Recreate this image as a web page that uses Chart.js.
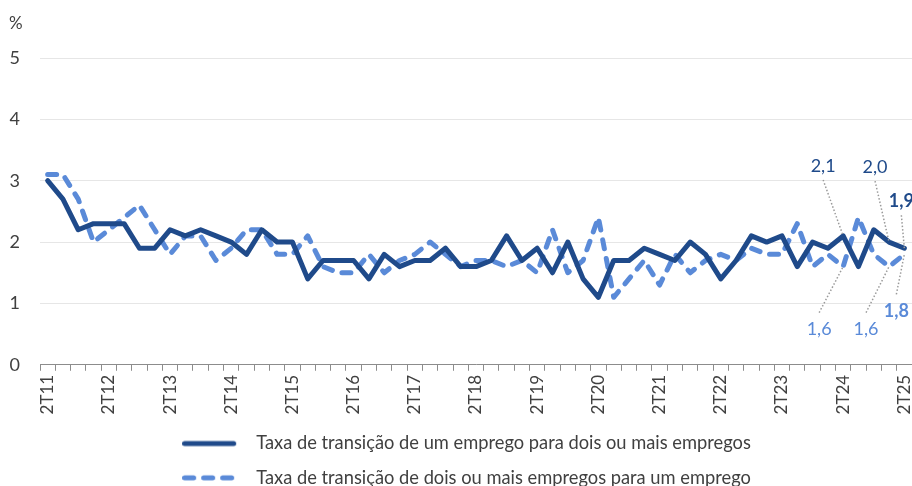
<!DOCTYPE html>
<html>
<head>
<meta charset="utf-8">
<script src="https://cdn.jsdelivr.net/npm/chart.js@4"></script>
<style>
  html, body { margin: 0; padding: 0; background: #fff; }
  #wrap { width: 912px; height: 486px; }
</style>
</head>
<body>
<div id="wrap"><canvas id="chart" width="912" height="486"></canvas></div>
<script>
const quarters = ['2T11','3T11','4T11','1T12','2T12','3T12','4T12','1T13','2T13','3T13','4T13','1T14','2T14','3T14','4T14','1T15','2T15','3T15','4T15','1T16','2T16','3T16','4T16','1T17','2T17','3T17','4T17','1T18','2T18','3T18','4T18','1T19','2T19','3T19','4T19','1T20','2T20','3T20','4T20','1T21','2T21','3T21','4T21','1T22','2T22','3T22','4T22','1T23','2T23','3T23','4T23','1T24','2T24','3T24','4T24','1T25','2T25'];

// um emprego -> dois ou mais
const oneToMany = [3.0,2.7,2.2,2.3,2.3,2.3,1.9,1.9,2.2,2.1,
                   2.2,2.1,2.0,1.8,2.2,2.0,2.0,1.4,1.7,1.7,
                   1.7,1.4,1.8,1.6,1.7,1.7,1.9,1.6,1.6,1.7,
                   2.1,1.7,1.9,1.5,2.0,1.4,1.1,1.7,1.7,1.9,
                   1.8,1.7,2.0,1.8,1.4,1.7,2.1,2.0,2.1,1.6,
                   2.0,1.9,2.1,1.6,2.2,2.0,1.9];

// dois ou mais -> um emprego
const manyToOne = [3.1,3.1,2.7,2.0,2.2,2.4,2.6,2.2,1.8,2.1,
                   2.1,1.7,1.9,2.2,2.2,1.8,1.8,2.1,1.6,1.5,
                   1.5,1.8,1.5,1.7,1.8,2.0,1.8,1.6,1.7,1.7,
                   1.6,1.7,1.5,2.2,1.5,1.7,2.4,1.1,1.4,1.7,
                   1.3,1.8,1.5,1.7,1.8,1.7,1.9,1.8,1.8,2.3,
                   1.6,1.8,1.6,2.4,1.8,1.6,1.8];

const yTicks = [0, 1, 2, 3, 4, 5];

const seriesNames = [
  'Taxa de transição de um emprego para dois ou mais empregos',
  'Taxa de transição de dois ou mais empregos para um emprego'
];

const DARK = '#1F4A8A';
const LIGHT = '#5A8AD8';
const FONT = 'Lato, "Open Sans", sans-serif';
const TXT = '#404040';

// value labels with leader lines (dataset, index, offsets of text from the point)
const callouts = [
  { ds: 0, i: 52, dx: -20, dy: -70, bold: false },
  { ds: 0, i: 55, dx: -14, dy: -75, bold: false },
  { ds: 0, i: 56, dx: -3,  dy: -47, bold: true },
  { ds: 1, i: 52, dx: -24, dy: 63,  bold: false },
  { ds: 1, i: 55, dx: -23, dy: 63,  bold: false },
  { ds: 1, i: 56, dx: -8,  dy: 57,  bold: true }
];

// legend line sample: line plus empty gap before the text
function legendSample(color, dash) {
  const c = document.createElement('canvas');
  c.width = 65; c.height = 8;
  const g = c.getContext('2d');
  g.strokeStyle = color;
  g.lineWidth = 5;
  g.lineCap = 'round';
  g.setLineDash(dash);
  g.beginPath();
  g.moveTo(2.5, 4);
  g.lineTo(51.5, 4);
  g.stroke();
  return c;
}

const calloutPlugin = {
  id: 'callouts',
  afterLayout(chart) {
    // legend is centred a bit right of the canvas centre
    chart.legend.left += 10.5;
    chart.legend.right += 10.5;
  },
  afterDatasetsDraw(chart) {
    const ctx = chart.ctx;
    ctx.save();
    callouts.forEach(c => {
      const pt = chart.getDatasetMeta(c.ds).data[c.i];
      const val = chart.data.datasets[c.ds].data[c.i];
      const tx = pt.x + c.dx, ty = pt.y + c.dy;
      // leader line
      const sy = c.dy < 0 ? ty + 14 : ty - 17;
      ctx.strokeStyle = '#9a9a9a';
      ctx.lineWidth = 1.5;
      ctx.setLineDash([1.5, 2]);
      ctx.beginPath();
      ctx.moveTo(tx, sy);
      ctx.lineTo(pt.x, pt.y);
      ctx.stroke();
      ctx.setLineDash([]);
      // text
      ctx.fillStyle = c.ds === 0 ? DARK : LIGHT;
      ctx.font = (c.bold ? 'bold ' : '') + '18px ' + FONT;
      ctx.textAlign = 'center';
      ctx.textBaseline = 'middle';
      ctx.fillText(val.toFixed(1).replace('.', ','), tx, ty);
    });
    // unit over the y axis
    ctx.fillStyle = TXT;
    ctx.font = '17px ' + FONT;
    ctx.textAlign = 'left';
    ctx.textBaseline = 'middle';
    ctx.fillText('%', 9, 24);
    ctx.restore();
  }
};

new Chart(document.getElementById('chart').getContext('2d'), {
  type: 'line',
  data: {
    labels: quarters,
    datasets: [
      {
        label: seriesNames[0],
        data: oneToMany,
        borderColor: DARK,
        backgroundColor: DARK,
        borderWidth: 5,
        pointRadius: 0,
        tension: 0,
        borderJoinStyle: 'round',
        borderCapStyle: 'round'
      },
      {
        label: seriesNames[1],
        data: manyToOne,
        borderColor: LIGHT,
        backgroundColor: LIGHT,
        borderWidth: 5,
        borderDash: [9, 10],
        pointRadius: 0,
        tension: 0,
        borderJoinStyle: 'round',
        borderCapStyle: 'round'
      }
    ]
  },
  options: {
    responsive: false,
    animation: false,
    layout: { padding: { top: 58, left: 0, right: 0, bottom: -11 } },
    scales: {
      x: {
        offset: true,
        grid: {
          offset: true,
          drawOnChartArea: false,
          drawTicks: true,
          tickLength: 6,
          color: '#8c8c8c',
          lineWidth: 1
        },
        border: { display: true, color: '#8c8c8c', width: 1 },
        ticks: {
          autoSkip: false,
          maxRotation: 90,
          minRotation: 90,
          padding: 4,
          color: TXT,
          font: { family: FONT, size: 17 },
          callback: function (v, i) {
            const q = quarters[i];
            return q.startsWith('2T') ? q : '';
          }
        },
        afterFit: function (scale) {
          scale.paddingLeft = 0;
          scale.paddingRight = 0;
        }
      },
      y: {
        min: 0,
        max: 5,
        afterBuildTicks: function (scale) {
          scale.ticks = yTicks.map(v => ({ value: v }));
        },
        grid: { color: '#e6e6e6', lineWidth: 1, drawTicks: false },
        border: { display: false },
        ticks: {
          padding: 20,
          color: TXT,
          font: { family: FONT, size: 18 }
        },
        afterFit: function (scale) { scale.width = 40; }
      }
    },
    plugins: {
      legend: {
        position: 'bottom',
        align: 'center',
        labels: {
          usePointStyle: true,
          pointStyleWidth: 65,
          boxHeight: 8,
          padding: 16,
          color: TXT,
          font: { family: FONT, size: 18.3 },
          generateLabels: function (chart) {
            return chart.data.datasets.map((ds, i) => ({
              text: ds.label,
              datasetIndex: i,
              fillStyle: ds.borderColor,
              strokeStyle: ds.borderColor,
              fontColor: TXT,
              lineWidth: ds.borderWidth,
              pointStyle: legendSample(ds.borderColor, ds.borderDash || []),
              hidden: false
            }));
          }
        }
      },
      tooltip: { enabled: false },
      title: { display: false }
    }
  },
  plugins: [calloutPlugin]
});
</script>
</body>
</html>
